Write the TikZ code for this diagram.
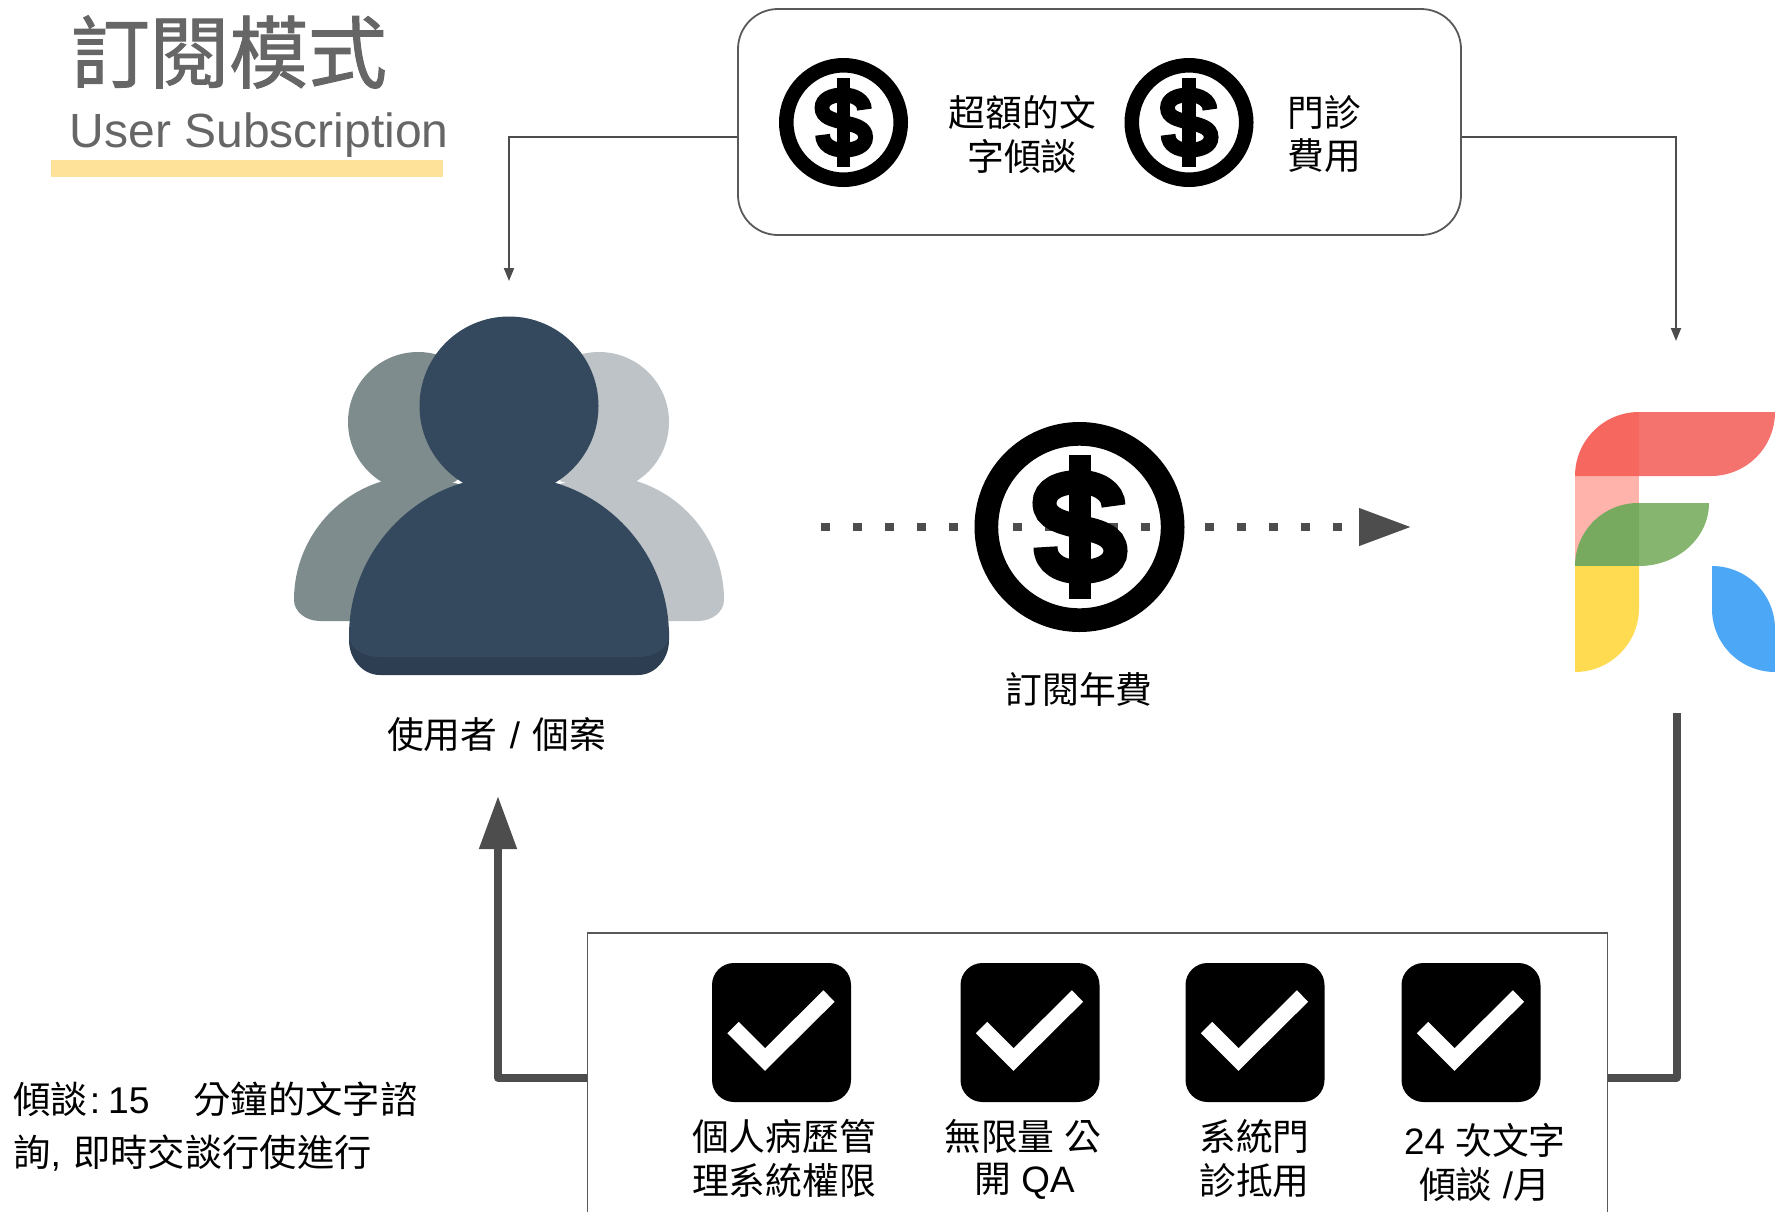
\documentclass[tikz,border=0pt]{standalone}
\usepackage{fontspec}
\setmainfont{Liberation Sans}
\newfontfamily\cj{Noto Sans CJK TC}
\newfontfamily\cjh[FakeBold=1.2]{Noto Sans CJK TC}
\usetikzlibrary{arrows.meta}
\definecolor{linegray}{HTML}{4D4D4D}
\definecolor{boxgray}{HTML}{595959}
\definecolor{titlegray}{HTML}{666666}
\definecolor{barcol}{HTML}{FFE299}
\definecolor{navy}{HTML}{34495E}
\definecolor{navydark}{HTML}{2E3E52}
\definecolor{backdark}{HTML}{7F8C8D}
\definecolor{backlight}{HTML}{BDC3C7}
\definecolor{redl}{HTML}{F6675F}
\definecolor{redr}{HTML}{F4736F}
\definecolor{pinkc}{HTML}{FFB3AB}
\definecolor{greenl}{HTML}{77A95F}
\definecolor{greenr}{HTML}{85B56E}
\definecolor{yellowc}{HTML}{FFDB52}
\definecolor{bluec}{HTML}{4DA7F7}
\newcommand{\fs}[1]{\fontsize{#1}{#1}\selectfont}
\newcommand{\lat}[1]{{\rmfamily #1}}
\tikzset{
  lab/.style={font=\fs{36.8}\cj,inner sep=0pt,text=black},
  notelab/.style={font=\fs{37.3}\cj,inner sep=0pt,text=black,anchor=west},
  thinarrow/.style={draw=linegray,line width=2pt,-{Triangle[length=13pt,width=10pt]}},
  thickline/.style={draw=linegray,line width=8pt},
  infobox/.style={draw=boxgray,line width=1.8pt,fill=white,inner sep=0pt},
  checkbox/.style={fill=black,draw=none,rounded corners=22pt,minimum size=139pt,inner sep=0pt},
  checkstroke/.style={draw=white,line width=16pt,line cap=butt,line join=miter},
}
% dollar coin: name, x, y, outer radius
\newcommand{\coin}[4]{%
  \pgfmathsetmacro{\cs}{#4/105}%
  \pgfmathsetmacro{\cw}{23.7*\cs}%
  \pgfmathsetmacro{\cd}{2*#4-\cw}%
  \pgfmathsetmacro{\sw}{24*\cs}%
  \node[circle,draw=black,line width=\cw pt,minimum size=\cd pt,inner sep=0pt] (#1) at (#2,#3) {};
  \begin{scope}[shift={(#2,#3)},scale=\cs]
    \fill[black] (-11,-72) rectangle (11,72);
    \draw[black,line width=\sw pt,line cap=butt]
      (34,-21) .. controls (34,-36) and (18,-45) .. (0,-45)
      .. controls (-20,-45) and (-35,-38) .. (-35,-24)
      .. controls (-35,-8) and (-18,-5) .. (0,0)
      .. controls (18,4) and (36,8) .. (36,24)
      .. controls (36,38) and (20,45) .. (0,45)
      .. controls (-18,45) and (-34,37) .. (-34,20);
  \end{scope}
}
% check box: name, x
\newcommand{\checkitem}[2]{%
  \node[checkbox] (#1) at (#2,1032.5) {};
  \draw[checkstroke,shift={(#2,1032.5)}] (-48.5,-5) -- (-16.5,27) -- (47.5,-36.5);
}
\begin{document}
\begin{tikzpicture}[x=1pt,y=-1pt]
\useasboundingbox (0,0) rectangle (1775,1211);
% title
\node[inner sep=0pt,text=titlegray,font=\fs{79}\cjh] (title) at (229,52) {訂閱模式};
\fill[barcol] (51,160) rectangle (443,177);
\node[inner sep=0pt,text=titlegray,font=\fs{48},anchor=base west] (sub) at (69.5,147) {User Subscription};
% top box and thin connectors
\node[infobox,rounded corners=40pt,minimum width=723pt,minimum height=226pt] (topbox) at (1099.5,122) {};
\coordinate (usertop) at (509,281);
\coordinate (logotop) at (1676,341);
\draw[thinarrow] (topbox.west |- 0,137) -- (509,137) -- (usertop);
\draw[thinarrow] (topbox.east |- 0,137) -- (1676,137) -- (logotop);
\coin{c1}{843.5}{122.5}{64.5}
\coin{c2}{1189}{122.5}{64.5}
\node[lab] (t1) at (1022.5,112) {超額的文};
\node[lab] (t1b) at (1022.5,156) {字傾談};
\node[lab] (t2) at (1324.5,112) {門診};
\node[lab] (t2b) at (1324.5,156) {費用};
% users
\fill[backlight] (599,422) circle[radius=70];
\fill[backlight] (475,600) arc[start angle=180,end angle=360,radius=124.5]
  arc[start angle=0,end angle=90,x radius=26,y radius=21] -- (475,621) -- cycle;
\fill[backdark] (418,422) circle[radius=70];
\fill[backdark] (294,600) arc[start angle=180,end angle=360,radius=124] -- (542,621) -- (320,621)
  arc[start angle=90,end angle=180,x radius=26,y radius=21] -- cycle;
\fill[white] (452,482) -- (465,482) -- (465,486) -- cycle;
\fill[white] (566,482) -- (553,482) -- (553,486) -- cycle;
\fill[navydark] (349,630) -- (669,630) -- (669,640) arc[start angle=0,end angle=90,x radius=31,y radius=35]
  -- (380,675) arc[start angle=90,end angle=180,x radius=31,y radius=35] -- cycle;
\fill[navy] (349,636) arc[start angle=180,end angle=360,radius=160]
  arc[start angle=0,end angle=90,x radius=31,y radius=21] -- (380,657)
  arc[start angle=90,end angle=180,x radius=31,y radius=21] -- cycle;
\fill[navy] (509,406) circle[radius=89.5];
\node[lab] (userlab) at (496.5,735) {使用者\lat{\kern2pt{} / \kern2pt}個案};
% logo
\fill[pinkc] (1575,475) rectangle (1639,566);
\fill[redl] (1575,476) arc[start angle=180,end angle=270,radius=64] -- (1639,476) -- cycle;
\fill[redr] (1639,412) -- (1775,412) arc[start angle=0,end angle=90,radius=64] -- (1639,476) -- cycle;
\fill[greenl] (1575,566) arc[start angle=180,end angle=270,radius=63] -- (1639,503) -- (1639,566) -- cycle;
\fill[greenr] (1639,503) -- (1709,503) arc[start angle=0,end angle=90,x radius=70,y radius=63] -- cycle;
\fill[yellowc] (1575,566) -- (1639,566) -- (1639,608) arc[start angle=0,end angle=90,radius=64] -- cycle;
\fill[bluec] (1712,566) arc[start angle=270,end angle=360,radius=63] -- (1775,672)
  arc[start angle=90,end angle=180,radius=63] -- cycle;
% dotted flow and coin
\coordinate (flowstart) at (821,527);
\coordinate (flowend) at (1411,527);
\draw[draw=linegray,line width=7.5pt,dash pattern=on 8.5pt off 23.5pt,-{Triangle[length=52pt,width=36pt]}] (flowstart) -- (flowend);
\coin{c3}{1079.5}{527}{105}
\node[lab] (feelab) at (1079,689) {訂閱年費};
% bottom box and thick connectors
\node[infobox,minimum width=1020pt,minimum height=380pt] (botbox) at (1097.5,1123) {};
\coordinate (userbottom) at (498,796);
\coordinate (logobottom) at (1676.5,713);
\draw[thickline,line join=round,-{Triangle[length=53pt,width=36pt]}] (botbox.west |- 0,1077.5) -- (498,1077.5) -- (userbottom);
\draw[thickline,line join=round] (botbox.east |- 0,1077.5) -- (1676.5,1077.5) -- (logobottom);
\checkitem{k1}{781.5}
\checkitem{k2}{1030}
\checkitem{k3}{1255}
\checkitem{k4}{1471}
\node[lab] (a1) at (784,1136) {個人病歷管};
\node[lab] (a2) at (784,1180.5) {理系統權限};
\node[lab] (b1) at (1023,1136) {無限量\lat{ }公};
\node[lab] (b2) at (1024.5,1181) {開\lat{ QA}};
\node[lab] (c1t) at (1254.5,1136) {系統門};
\node[lab] (c2t) at (1254.5,1180.5) {診抵用};
\node[lab] (d1) at (1485,1140.5) {\lat{24 }次文字};
\node[lab] (d2) at (1484.5,1185) {傾談\lat{ /}月};
% note
\node[notelab] (n1) at (13,1099) {傾談\lat{\kern2pt:\kern8pt 15}\hspace{44pt}分鐘的文字諮};
\node[notelab] (n2) at (13,1153) {詢\lat{,}\hspace{12.5pt}即時交談行使進行};
\end{tikzpicture}
\end{document}
